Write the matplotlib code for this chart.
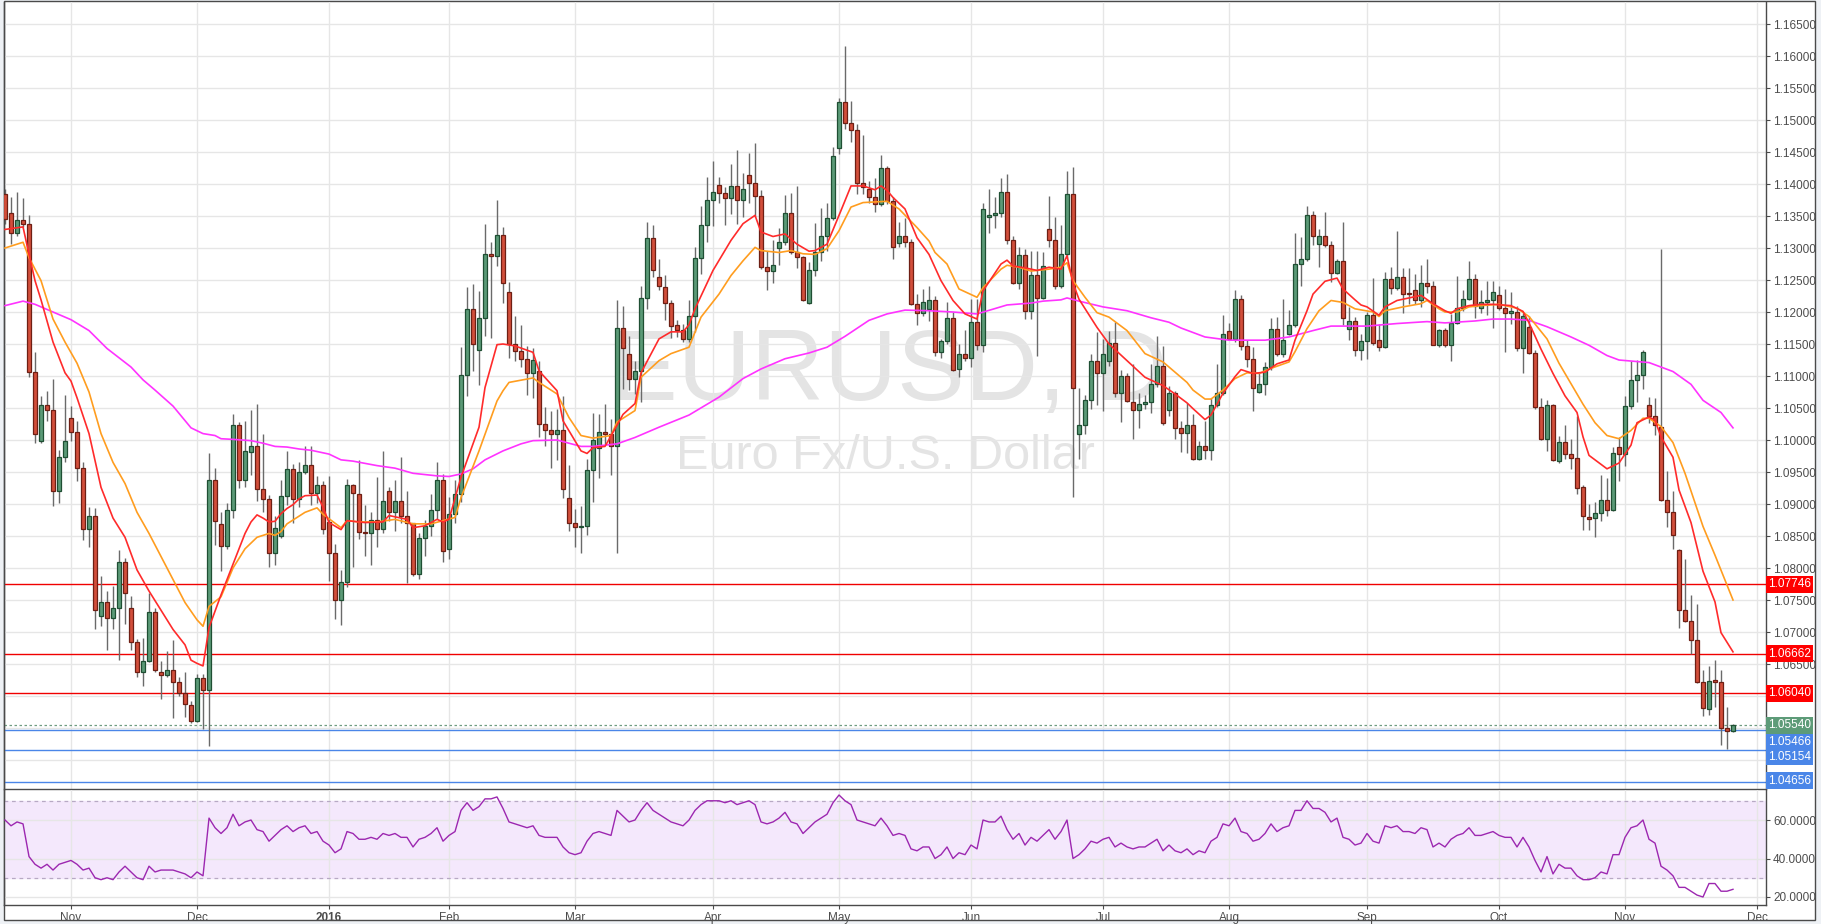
import numpy as np
import pandas as pd
import matplotlib.pyplot as plt
from matplotlib.patches import Rectangle
from matplotlib.ticker import FuncFormatter, FormatStrFormatter

plt.rcParams['font.family'] = ['Liberation Sans', 'DejaVu Sans']

W, H = 1821, 924

# EURUSD daily candles, 16 Oct 2015 - 25 Nov 2016
opens = [
    1.1385, 1.1355, 1.1323, 1.1344, 1.1338, 1.1107, 1.0998, 1.1055, 1.1047, 1.0921,
    1.0974, 1.1035, 1.1013, 1.0957, 1.0861, 1.0881, 1.0725, 1.0747, 1.0722, 1.0737,
    1.0809, 1.0737, 1.0684, 1.0637, 1.0655, 1.0731, 1.0637, 1.0633, 1.0640, 1.0622,
    1.0605, 1.0586, 1.0561, 1.0628, 1.0610, 1.0937, 1.0869, 1.0835, 1.0890, 1.1023,
    1.0938, 1.0982, 1.0991, 1.0923, 1.0908, 1.0824, 1.0850, 1.0912, 1.0955, 1.0908,
    1.0950, 1.0961, 1.0917, 1.0930, 1.0872, 1.0824, 1.0750, 1.0778, 1.0929, 1.0915,
    1.0857, 1.0855, 1.0875, 1.0861, 1.0921, 1.0887, 1.0905, 1.0882, 1.0870, 1.0790,
    1.0847, 1.0866, 1.0891, 1.0938, 1.0830, 1.0884, 1.0916, 1.1102, 1.1205, 1.1141,
    1.1191, 1.1291, 1.1288, 1.1320, 1.1231, 1.1150, 1.1139, 1.1127, 1.1105, 1.1108,
    1.1025, 1.1016, 1.1009, 1.1016, 1.0909, 1.0870, 1.0864, 1.0866, 1.0953, 1.0987,
    1.1013, 1.1009, 1.0990, 1.1175, 1.1135, 1.1096, 1.1108, 1.1222, 1.1316, 1.1254,
    1.1239, 1.1214, 1.1179, 1.1172, 1.1158, 1.1193, 1.1285, 1.1336, 1.1375, 1.1398,
    1.1386, 1.1378, 1.1397, 1.1375, 1.1414, 1.1401, 1.1381, 1.1271, 1.1264, 1.1300,
    1.1310, 1.1354, 1.1294, 1.1286, 1.1214, 1.1265, 1.1294, 1.1318, 1.1347, 1.1456,
    1.1528, 1.1495, 1.1484, 1.1402, 1.1392, 1.1379, 1.1369, 1.1425, 1.1373, 1.1308,
    1.1318, 1.1310, 1.1212, 1.1199, 1.1205, 1.1218, 1.1137, 1.1154, 1.1191, 1.1111,
    1.1135, 1.1128, 1.1185, 1.1149, 1.1349, 1.1351, 1.1354, 1.1388, 1.1312, 1.1245,
    1.1289, 1.1201, 1.1258, 1.1222, 1.1329, 1.1312, 1.1241, 1.1291, 1.1384, 1.1010,
    1.1023, 1.1063, 1.1123, 1.1105, 1.1124, 1.1152, 1.1074, 1.1100, 1.1059, 1.1047,
    1.1057, 1.1059, 1.1087, 1.1115, 1.1047, 1.1074, 1.1018, 1.1011, 1.1024, 1.0971,
    1.0991, 1.0985, 1.1055, 1.1074, 1.1170, 1.1158, 1.1221, 1.1147, 1.1126, 1.1075,
    1.1087, 1.1114, 1.1174, 1.1135, 1.1166, 1.1180, 1.1275, 1.1283, 1.1352, 1.1306,
    1.1318, 1.1304, 1.1261, 1.1279, 1.1174, 1.1186, 1.1141, 1.1155, 1.1196, 1.1156,
    1.1146, 1.1252, 1.1238, 1.1255, 1.1230, 1.1234, 1.1218, 1.1246, 1.1240, 1.1149,
    1.1172, 1.1149, 1.1183, 1.1207, 1.1221, 1.1252, 1.1207, 1.1215, 1.1219, 1.1226,
    1.1207, 1.1199, 1.1200, 1.1144, 1.1177, 1.1136, 1.1051, 1.1002, 1.1055, 1.0967,
    1.0997, 1.0978, 1.0972, 1.0927, 1.0880, 1.0878, 1.0886, 1.0906, 1.0890, 1.0989,
    1.0978, 1.1053, 1.1094, 1.1102, 1.1054, 1.1037, 1.1021, 1.0906, 1.0887, 1.0828,
    1.0734, 1.0717, 1.0688, 1.0622, 1.0580, 1.0625, 1.0622, 1.0550, 1.0545,
]
highs = [
    1.1392, 1.1379, 1.1387, 1.1378, 1.1351, 1.1138, 1.1068, 1.1077, 1.1095, 1.0984,
    1.1071, 1.1053, 1.1029, 1.0966, 1.0896, 1.0893, 1.0788, 1.0764, 1.0772, 1.0828,
    1.0815, 1.0756, 1.0689, 1.0690, 1.0761, 1.0737, 1.0655, 1.0671, 1.0688, 1.0629,
    1.0637, 1.0592, 1.0634, 1.0634, 1.0980, 1.0956, 1.0887, 1.0901, 1.1041, 1.1028,
    1.1030, 1.1047, 1.1057, 1.1010, 1.0914, 1.0881, 1.0938, 1.0983, 1.0962, 1.0966,
    1.0991, 1.0990, 1.0943, 1.0936, 1.0944, 1.0838, 1.0797, 1.0939, 1.0932, 1.0968,
    1.0899, 1.0887, 1.0942, 1.0983, 1.0927, 1.0938, 1.0974, 1.0921, 1.0871, 1.0855,
    1.0875, 1.0915, 1.0966, 1.0947, 1.0911, 1.0938, 1.1145, 1.1239, 1.1244, 1.1233,
    1.1338, 1.1310, 1.1375, 1.1333, 1.1247, 1.1193, 1.1179, 1.1147, 1.1144, 1.1124,
    1.1052, 1.1046, 1.1048, 1.1068, 1.0961, 1.0892, 1.0897, 1.0970, 1.1042, 1.1041,
    1.1057, 1.1033, 1.1218, 1.1209, 1.1163, 1.1124, 1.1241, 1.1341, 1.1336, 1.1283,
    1.1258, 1.1219, 1.1187, 1.1181, 1.1219, 1.1302, 1.1365, 1.1411, 1.1436, 1.1411,
    1.1396, 1.1431, 1.1453, 1.1417, 1.1448, 1.1464, 1.1390, 1.1295, 1.1313, 1.1331,
    1.1383, 1.1386, 1.1397, 1.1288, 1.1278, 1.1339, 1.1362, 1.1370, 1.1458, 1.1535,
    1.1616, 1.1529, 1.1493, 1.1477, 1.1404, 1.1410, 1.1446, 1.1428, 1.1379, 1.1341,
    1.1347, 1.1314, 1.1228, 1.1236, 1.1241, 1.1225, 1.1158, 1.1216, 1.1200, 1.1150,
    1.1172, 1.1220, 1.1220, 1.1371, 1.1392, 1.1380, 1.1410, 1.1415, 1.1319, 1.1302,
    1.1298, 1.1295, 1.1295, 1.1293, 1.1381, 1.1349, 1.1336, 1.1420, 1.1427, 1.1081,
    1.1070, 1.1135, 1.1168, 1.1158, 1.1171, 1.1184, 1.1110, 1.1104, 1.1119, 1.1074,
    1.1070, 1.1118, 1.1163, 1.1147, 1.1085, 1.1076, 1.1029, 1.1058, 1.1040, 1.0998,
    1.1029, 1.1065, 1.1118, 1.1196, 1.1183, 1.1234, 1.1226, 1.1157, 1.1145, 1.1104,
    1.1122, 1.1190, 1.1192, 1.1221, 1.1203, 1.1323, 1.1317, 1.1366, 1.1358, 1.1330,
    1.1356, 1.1311, 1.1283, 1.1340, 1.1208, 1.1192, 1.1166, 1.1200, 1.1253, 1.1182,
    1.1262, 1.1271, 1.1326, 1.1268, 1.1268, 1.1260, 1.1274, 1.1283, 1.1249, 1.1174,
    1.1175, 1.1197, 1.1257, 1.1234, 1.1279, 1.1259, 1.1234, 1.1248, 1.1248, 1.1241,
    1.1236, 1.1231, 1.1210, 1.1199, 1.1193, 1.1140, 1.1066, 1.1062, 1.1056, 1.1006,
    1.1024, 1.1002, 1.1037, 1.0929, 1.0900, 1.0903, 1.0945, 1.0941, 1.0989, 1.1005,
    1.1069, 1.1123, 1.1125, 1.1140, 1.1067, 1.1066, 1.1298, 1.0951, 1.0921, 1.0830,
    1.0814, 1.0758, 1.0744, 1.0641, 1.0647, 1.0656, 1.0641, 1.0583, 1.0557,
]
lows = [
    1.1338, 1.1307, 1.1318, 1.1333, 1.1099, 1.0996, 1.0996, 1.1030, 1.0897, 1.0902,
    1.0965, 1.0999, 1.0936, 1.0844, 1.0833, 1.0704, 1.0710, 1.0672, 1.0704, 1.0657,
    1.0713, 1.0672, 1.0629, 1.0616, 1.0653, 1.0637, 1.0595, 1.0629, 1.0565, 1.0600,
    1.0567, 1.0558, 1.0559, 1.0548, 1.0522, 1.0836, 1.0795, 1.0830, 1.0878, 1.0925,
    1.0926, 1.0945, 1.0905, 1.0887, 1.0801, 1.0805, 1.0847, 1.0899, 1.0870, 1.0895,
    1.0947, 1.0898, 1.0901, 1.0853, 1.0780, 1.0720, 1.0711, 1.0770, 1.0802, 1.0846,
    1.0818, 1.0804, 1.0833, 1.0854, 1.0874, 1.0858, 1.0870, 1.0776, 1.0788, 1.0783,
    1.0818, 1.0850, 1.0877, 1.0809, 1.0814, 1.0870, 1.0903, 1.1068, 1.1108, 1.1086,
    1.1162, 1.1160, 1.1272, 1.1214, 1.1128, 1.1123, 1.1114, 1.1070, 1.1065, 1.1004,
    1.0991, 1.0956, 1.0969, 1.0910, 1.0858, 1.0833, 1.0824, 1.0852, 1.0903, 1.0940,
    1.0994, 1.0946, 1.0823, 1.1080, 1.1078, 1.1072, 1.1059, 1.1205, 1.1255, 1.1234,
    1.1188, 1.1160, 1.1161, 1.1153, 1.1153, 1.1169, 1.1260, 1.1310, 1.1334, 1.1371,
    1.1336, 1.1353, 1.1338, 1.1348, 1.1371, 1.1349, 1.1267, 1.1235, 1.1245, 1.1273,
    1.1304, 1.1290, 1.1269, 1.1217, 1.1213, 1.1256, 1.1280, 1.1296, 1.1344, 1.1447,
    1.1486, 1.1466, 1.1385, 1.1384, 1.1371, 1.1357, 1.1365, 1.1369, 1.1283, 1.1301,
    1.1301, 1.1211, 1.1179, 1.1193, 1.1186, 1.1132, 1.1128, 1.1150, 1.1108, 1.1098,
    1.1123, 1.1114, 1.1140, 1.1137, 1.1324, 1.1332, 1.1348, 1.1306, 1.1244, 1.1236,
    1.1189, 1.1189, 1.1131, 1.1220, 1.1301, 1.1236, 1.1238, 1.1285, 1.0911, 1.0971,
    1.1010, 1.1049, 1.1054, 1.1046, 1.1116, 1.1067, 1.1028, 1.1059, 1.1002, 1.1018,
    1.1049, 1.1042, 1.1083, 1.1024, 1.1038, 1.1002, 1.0981, 1.0979, 1.0969, 1.0969,
    1.0970, 1.0969, 1.1052, 1.1070, 1.1156, 1.1153, 1.1140, 1.1114, 1.1046, 1.1073,
    1.1070, 1.1110, 1.1131, 1.1130, 1.1164, 1.1177, 1.1241, 1.1280, 1.1305, 1.1270,
    1.1301, 1.1247, 1.1260, 1.1179, 1.1156, 1.1131, 1.1125, 1.1127, 1.1148, 1.1139,
    1.1143, 1.1228, 1.1234, 1.1198, 1.1212, 1.1213, 1.1208, 1.1230, 1.1148, 1.1145,
    1.1146, 1.1123, 1.1182, 1.1202, 1.1218, 1.1191, 1.1198, 1.1196, 1.1175, 1.1203,
    1.1137, 1.1182, 1.1139, 1.1104, 1.1134, 1.1048, 1.1000, 1.0983, 1.0967, 1.0964,
    1.0970, 1.0954, 1.0915, 1.0859, 1.0859, 1.0849, 1.0873, 1.0881, 1.0889, 1.0936,
    1.0959, 1.1049, 1.1059, 1.1080, 1.1027, 1.1008, 1.0905, 1.0864, 1.0830, 1.0707,
    1.0715, 1.0666, 1.0620, 1.0568, 1.0571, 1.0583, 1.0524, 1.0517, 1.0543,
]
closes = [
    1.1346, 1.1323, 1.1344, 1.1338, 1.1107, 1.1010, 1.1055, 1.1047, 1.0921, 1.0974,
    1.0999, 1.1013, 1.0957, 1.0861, 1.0881, 1.0734, 1.0747, 1.0722, 1.0737, 1.0809,
    1.0761, 1.0684, 1.0637, 1.0655, 1.0731, 1.0640, 1.0633, 1.0640, 1.0622, 1.0605,
    1.0587, 1.0561, 1.0628, 1.0610, 1.0937, 1.0873, 1.0835, 1.0890, 1.1023, 1.0938,
    1.0983, 1.0991, 1.0923, 1.0908, 1.0824, 1.0863, 1.0912, 1.0955, 1.0908, 1.0950,
    1.0961, 1.0917, 1.0930, 1.0861, 1.0824, 1.0750, 1.0778, 1.0929, 1.0917, 1.0857,
    1.0855, 1.0875, 1.0861, 1.0905, 1.0887, 1.0905, 1.0882, 1.0870, 1.0791, 1.0847,
    1.0866, 1.0891, 1.0938, 1.0827, 1.0884, 1.0916, 1.1102, 1.1205, 1.1150, 1.1191,
    1.1291, 1.1288, 1.1320, 1.1246, 1.1150, 1.1139, 1.1127, 1.1105, 1.1125, 1.1025,
    1.1016, 1.1009, 1.1016, 1.0923, 1.0870, 1.0864, 1.0866, 1.0953, 1.1000, 1.1013,
    1.1009, 1.0990, 1.1175, 1.1143, 1.1096, 1.1108, 1.1222, 1.1316, 1.1266, 1.1240,
    1.1214, 1.1178, 1.1172, 1.1158, 1.1193, 1.1285, 1.1336, 1.1375, 1.1388, 1.1386,
    1.1378, 1.1397, 1.1375, 1.1392, 1.1401, 1.1381, 1.1271, 1.1264, 1.1274, 1.1310,
    1.1354, 1.1294, 1.1286, 1.1218, 1.1265, 1.1294, 1.1318, 1.1347, 1.1443, 1.1528,
    1.1495, 1.1484, 1.1402, 1.1396, 1.1379, 1.1369, 1.1425, 1.1373, 1.1301, 1.1318,
    1.1310, 1.1212, 1.1199, 1.1216, 1.1218, 1.1137, 1.1154, 1.1191, 1.1109, 1.1135,
    1.1128, 1.1185, 1.1149, 1.1361, 1.1351, 1.1354, 1.1388, 1.1312, 1.1245, 1.1289,
    1.1201, 1.1258, 1.1222, 1.1272, 1.1312, 1.1241, 1.1291, 1.1384, 1.1081, 1.1023,
    1.1063, 1.1123, 1.1105, 1.1135, 1.1152, 1.1074, 1.1100, 1.1061, 1.1047, 1.1057,
    1.1059, 1.1087, 1.1115, 1.1027, 1.1074, 1.1018, 1.1011, 1.1024, 1.0971, 1.0991,
    1.0985, 1.1055, 1.1074, 1.1166, 1.1158, 1.1221, 1.1147, 1.1126, 1.1081, 1.1087,
    1.1114, 1.1174, 1.1135, 1.1157, 1.1180, 1.1275, 1.1283, 1.1352, 1.1318, 1.1318,
    1.1304, 1.1261, 1.1279, 1.1191, 1.1186, 1.1141, 1.1155, 1.1196, 1.1151, 1.1146,
    1.1252, 1.1238, 1.1255, 1.1228, 1.1228, 1.1218, 1.1246, 1.1240, 1.1149, 1.1172,
    1.1149, 1.1183, 1.1207, 1.1221, 1.1252, 1.1209, 1.1215, 1.1219, 1.1232, 1.1207,
    1.1199, 1.1201, 1.1144, 1.1194, 1.1136, 1.1051, 1.1002, 1.1055, 1.0969, 1.0997,
    1.0978, 1.0972, 1.0925, 1.0881, 1.0876, 1.0886, 1.0906, 1.0890, 1.0980, 1.0978,
    1.1053, 1.1094, 1.1102, 1.1137, 1.1037, 1.1023, 1.0906, 1.0887, 1.0851, 1.0734,
    1.0717, 1.0688, 1.0622, 1.0582, 1.0623, 1.0622, 1.0550, 1.0545, 1.0554,
]

# moving averages, sampled along the bars (bar number, price)
fast_ma_bar = [0, 3, 4, 5, 6, 8, 10, 11, 12, 14, 16, 18, 20, 22, 24, 26, 28, 30, 31, 32,
               33, 34, 36, 38, 40, 41, 42, 43, 44, 45, 46, 47, 48, 49, 50, 52, 53, 54, 56, 57,
               60, 63, 64, 67, 68, 70, 72, 73, 74, 76, 79, 80, 82, 83, 85, 88, 89, 92, 93, 96,
               97, 98, 100, 102, 103, 105, 106, 109, 111, 113, 114, 115, 118, 121, 123, 125, 126, 128, 130, 132,
               134, 135, 137, 139, 141, 143, 145, 146, 147, 148, 150, 152, 154, 156, 158, 160, 162, 163, 166, 167,
               168, 170, 172, 174, 176, 177, 178, 179, 182, 184, 187, 190, 193, 195, 197, 198, 200, 201, 203, 205,
               206, 208, 210, 212, 214, 215, 217, 218, 220, 222, 223, 225, 226, 227, 229, 230, 232, 234, 236, 238,
               240, 241, 242, 244, 246, 248, 251, 253, 254, 256, 258, 260, 262, 263, 264, 267, 269, 271, 272, 274,
               275, 276, 278, 279, 281, 283, 285, 286, 288]
fast_ma = [1.1329, 1.1333, 1.1290, 1.1249, 1.1219, 1.1153, 1.1105, 1.1092, 1.1066, 1.1010,
           1.0926, 1.0878, 1.0848, 1.0797, 1.0764, 1.0734, 1.0704, 1.0680, 1.0656, 1.0651,
           1.0647, 1.0707, 1.0758, 1.0806, 1.0854, 1.0872, 1.0883, 1.0878, 1.0872, 1.0873,
           1.0885, 1.0893, 1.0899, 1.0908, 1.0913, 1.0914, 1.0895, 1.0871, 1.0860, 1.0874,
           1.0871, 1.0872, 1.0882, 1.0876, 1.0863, 1.0866, 1.0876, 1.0872, 1.0876, 1.0942,
           1.1020, 1.1082, 1.1149, 1.1150, 1.1147, 1.1137, 1.1108, 1.1077, 1.1030, 1.0983,
           1.0979, 1.0988, 1.0990, 1.1023, 1.1040, 1.1057, 1.1105, 1.1158, 1.1169, 1.1169,
           1.1180, 1.1205, 1.1265, 1.1312, 1.1338, 1.1351, 1.1325, 1.1318, 1.1322, 1.1306,
           1.1295, 1.1296, 1.1306, 1.1351, 1.1397, 1.1397, 1.1391, 1.1397, 1.1390, 1.1379,
           1.1361, 1.1316, 1.1290, 1.1249, 1.1218, 1.1197, 1.1189, 1.1233, 1.1275, 1.1281,
           1.1272, 1.1269, 1.1265, 1.1270, 1.1267, 1.1288, 1.1245, 1.1220, 1.1176, 1.1150,
           1.1124, 1.1098, 1.1085, 1.1072, 1.1058, 1.1049, 1.1032, 1.1039, 1.1073, 1.1099,
           1.1110, 1.1104, 1.1106, 1.1119, 1.1125, 1.1156, 1.1202, 1.1228, 1.1248, 1.1253,
           1.1236, 1.1219, 1.1211, 1.1208, 1.1195, 1.1208, 1.1218, 1.1222, 1.1226, 1.1213,
           1.1202, 1.1198, 1.1205, 1.1210, 1.1212, 1.1212, 1.1210, 1.1201, 1.1183, 1.1142,
           1.1104, 1.1069, 1.1043, 1.1005, 1.0976, 1.0955, 1.0964, 1.0992, 1.1027, 1.1036,
           1.1031, 1.1005, 1.0973, 1.0922, 1.0871, 1.0795, 1.0747, 1.0699, 1.0669]

mid_ma_bar = [0, 3, 4, 6, 8, 10, 12, 14, 16, 18, 20, 22, 24, 26, 28, 30, 32, 33, 34, 36,
              38, 40, 42, 44, 45, 46, 47, 49, 50, 52, 53, 56, 57, 59, 62, 65, 68, 71, 73, 75,
              76, 79, 82, 83, 84, 88, 89, 92, 94, 96, 98, 101, 102, 105, 106, 109, 111, 114, 116, 119,
              121, 123, 125, 126, 129, 131, 133, 135, 137, 139, 141, 143, 147, 149, 152, 154, 155, 157, 159, 162,
              163, 166, 167, 169, 171, 174, 176, 177, 178, 180, 182, 184, 187, 190, 193, 195, 197, 198, 200, 201,
              203, 205, 207, 209, 211, 214, 215, 217, 219, 221, 223, 225, 228, 229, 230, 233, 236, 237, 239, 240,
              242, 244, 246, 249, 252, 254, 257, 259, 261, 263, 265, 267, 269, 271, 273, 274, 276, 278, 280, 283,
              285, 288]
mid_ma = [1.1300, 1.1309, 1.1285, 1.1249, 1.1189, 1.1153, 1.1120, 1.1075, 1.1010, 1.0965,
          1.0932, 1.0887, 1.0854, 1.0818, 1.0782, 1.0746, 1.0719, 1.0709, 1.0740, 1.0755,
          1.0800, 1.0830, 1.0848, 1.0854, 1.0851, 1.0857, 1.0869, 1.0881, 1.0887, 1.0894,
          1.0884, 1.0863, 1.0874, 1.0872, 1.0872, 1.0876, 1.0869, 1.0869, 1.0874, 1.0879,
          1.0910, 1.0983, 1.1061, 1.1077, 1.1090, 1.1097, 1.1090, 1.1072, 1.1035, 1.1007,
          1.1003, 1.1007, 1.1028, 1.1046, 1.1098, 1.1124, 1.1135, 1.1145, 1.1192, 1.1228,
          1.1257, 1.1280, 1.1301, 1.1296, 1.1293, 1.1296, 1.1291, 1.1290, 1.1299, 1.1327,
          1.1364, 1.1371, 1.1373, 1.1361, 1.1332, 1.1311, 1.1293, 1.1275, 1.1236, 1.1223,
          1.1238, 1.1267, 1.1273, 1.1270, 1.1264, 1.1267, 1.1270, 1.1277, 1.1249, 1.1223,
          1.1199, 1.1192, 1.1171, 1.1135, 1.1122, 1.1106, 1.1090, 1.1078, 1.1064, 1.1064,
          1.1078, 1.1096, 1.1105, 1.1104, 1.1112, 1.1122, 1.1138, 1.1174, 1.1202, 1.1218,
          1.1215, 1.1205, 1.1200, 1.1193, 1.1202, 1.1208, 1.1213, 1.1218, 1.1205, 1.1200,
          1.1200, 1.1208, 1.1210, 1.1212, 1.1206, 1.1193, 1.1158, 1.1120, 1.1088, 1.1056,
          1.1027, 1.1007, 1.1002, 1.1015, 1.1034, 1.1034, 1.1021, 1.0996, 1.0948, 1.0865,
          1.0820, 1.0750]

slow_ma_bar = [0, 3, 5, 8, 11, 14, 17, 21, 23, 25, 28, 31, 33, 35, 36, 38, 41, 43, 45, 47,
               49, 51, 54, 56, 58, 62, 65, 68, 72, 74, 76, 78, 80, 83, 86, 88, 92, 94, 96, 98,
               102, 105, 109, 114, 119, 123, 126, 130, 134, 137, 140, 144, 147, 150, 154, 158, 162, 167, 171, 173,
               176, 177, 179, 183, 187, 191, 194, 196, 200, 204, 210, 214, 218, 221, 227, 232, 237, 240, 245, 248,
               251, 254, 257, 261, 264, 267, 269, 274, 278, 281, 283, 286, 288]
slow_ma = [1.1210, 1.1217, 1.1212, 1.1200, 1.1188, 1.1171, 1.1143, 1.1114, 1.1094, 1.1078,
           1.1053, 1.1019, 1.1010, 1.1007, 1.1002, 1.1001, 1.0999, 1.0995, 1.0990, 1.0989,
           1.0986, 1.0984, 1.0978, 1.0969, 1.0967, 1.0960, 1.0956, 1.0948, 1.0944, 1.0943,
           1.0947, 1.0955, 1.0969, 1.0983, 1.0994, 1.0999, 1.1000, 1.0995, 1.0990, 1.0990,
           1.0994, 1.1004, 1.1020, 1.1039, 1.1067, 1.1096, 1.1111, 1.1127, 1.1136, 1.1145,
           1.1162, 1.1187, 1.1197, 1.1203, 1.1202, 1.1200, 1.1197, 1.1211, 1.1214, 1.1217,
           1.1219, 1.1222, 1.1217, 1.1208, 1.1202, 1.1191, 1.1184, 1.1175, 1.1161, 1.1156,
           1.1156, 1.1161, 1.1171, 1.1178, 1.1178, 1.1182, 1.1185, 1.1183, 1.1186, 1.1189,
           1.1189, 1.1187, 1.1177, 1.1161, 1.1148, 1.1132, 1.1125, 1.1121, 1.1107, 1.1087,
           1.1062, 1.1043, 1.1019]

rsi = [
    60, 57, 59, 58, 41, 37, 35, 37, 34, 37, 38, 39, 37, 34, 35, 30, 29, 30, 29, 33,
    36, 33, 30, 29, 36, 33, 34, 34, 34, 33, 32, 30, 33, 31, 61, 56, 53, 56, 63, 57,
    59, 60, 55, 54, 49, 52, 55, 57, 54, 56, 57, 53, 54, 49, 47, 43, 45, 54, 53, 50,
    50, 51, 50, 53, 52, 53, 51, 51, 46, 50, 51, 53, 56, 49, 52, 54, 65, 69, 65, 67,
    71, 71, 72, 66, 59, 58, 57, 56, 57, 52, 51, 51, 51, 46, 43, 42, 43, 49, 53, 54,
    53, 52, 65, 62, 59, 60, 65, 69, 65, 63, 61, 59, 58, 57, 60, 65, 68, 70, 70, 70,
    69, 70, 68, 69, 70, 68, 59, 58, 59, 61, 64, 59, 58, 53, 56, 59, 61, 63, 69, 73,
    70, 68, 60, 59, 58, 57, 61, 57, 52, 53, 52, 45, 44, 46, 46, 40, 42, 46, 40, 43,
    42, 47, 45, 60, 59, 59, 62, 55, 50, 53, 47, 51, 49, 52, 55, 50, 54, 60, 40, 42,
    45, 49, 48, 50, 51, 46, 48, 46, 45, 46, 46, 48, 50, 44, 47, 44, 43, 45, 42, 44,
    43, 49, 51, 58, 57, 61, 54, 53, 49, 50, 53, 58, 54, 56, 57, 65, 65, 70, 66, 66,
    64, 59, 61, 51, 50, 47, 48, 53, 49, 48, 57, 56, 57, 54, 54, 53, 56, 55, 46, 48,
    46, 50, 52, 53, 56, 52, 52, 53, 54, 52, 51, 51, 46, 51, 46, 39, 33, 41, 32, 37,
    35, 35, 31, 29, 29, 30, 33, 32, 42, 42, 51, 56, 57, 60, 50, 48, 36, 34, 31, 25,
    25, 23, 21, 20, 27, 27, 23, 23, 24,
]

red_levels = [1.07746, 1.06662, 1.06040]
blue_levels = [1.05466, 1.05154, 1.04656]
last_price = 1.05540

# trading days (FX calendar without 25 Dec and 1 Jan); the x axis runs to 1 Dec 2016
days = pd.bdate_range('2015-10-16', '2016-12-01')
days = days[~days.isin(pd.to_datetime(['2015-12-25', '2016-01-01']))]
month_pos = [i for i in range(1, len(days)) if days[i].month != days[i - 1].month]
month_lab = [str(days[i].year) if days[i].month == 1 else days[i].strftime('%b') for i in month_pos]

o, h, l, c = (np.array(v) for v in (opens, highs, lows, closes))
x = np.arange(len(c))
up = c >= o

fig = plt.figure(figsize=(W / 100, H / 100), dpi=100, facecolor='#eef1f5')
frame = Rectangle((4 / W, 1 - 920 / H), 1811 / W, 919 / H, transform=fig.transFigure,
                  facecolor='white', edgecolor='#4a4a4a', lw=1, zorder=-5)
fig.patches.append(frame)

ax = fig.add_axes([4 / W, 1 - 789 / H, 1762 / W, 787 / H])
rx = fig.add_axes([4 / W, 1 - 905 / H, 1762 / W, 115 / H])

grid_c = '#e6e6e6'
axis_c = '#4a4a4a'
txt_c = '#4d4d4d'

for a in (ax, rx):
    a.patch.set_alpha(0)
    a.set_xlim(-0.17, 293.5)
    a.set_xticks(month_pos)
    a.grid(True, color=grid_c, lw=1)
    a.set_axisbelow(True)
    a.yaxis.tick_right()
    a.tick_params(axis='y', direction='out', length=3, width=0.8, color=axis_c,
                  labelsize=8.5, labelcolor=txt_c, pad=2)
    for s in a.spines.values():
        s.set_color(axis_c)
        s.set_linewidth(1)
ax.spines['top'].set_visible(False)
rx.spines['top'].set_visible(False)


# price scale; labels sitting under the value boxes are hidden, as on the chart
def price_label(v, pos):
    if v < 1.0625:
        return ''
    return '%.5f' % v


ax.set_ylim(1.04547, 1.16844)
ax.set_yticks(np.arange(1.050, 1.1651, 0.005))
ax.yaxis.set_major_formatter(FuncFormatter(price_label))
ax.tick_params(axis='x', length=0, labelbottom=False)

ax.text(0.502, 0.494, 'EURUSD, D', transform=ax.transAxes, ha='center', va='baseline',
        fontsize=73, color='#e4e4e4', zorder=0.5)
ax.text(0.5, 0.407, 'Euro Fx/U.S. Dollar', transform=ax.transAxes, ha='center', va='baseline',
        fontsize=35, color='#e4e4e4', zorder=0.5)

ax.vlines(x, l, h, color='#6a6a6a', lw=1, zorder=2)
ax.bar(x[up], (c - o)[up], bottom=o[up], width=0.68, color='#5b9a77',
       edgecolor='#1f4f33', lw=0.9, zorder=3)
ax.bar(x[~up], (o - c)[~up], bottom=c[~up], width=0.68, color='#d24f3b',
       edgecolor='#6e1f14', lw=0.9, zorder=3)

ax.plot(slow_ma_bar, slow_ma, color='#ff33ff', lw=1.2, zorder=4)
ax.plot(mid_ma_bar, mid_ma, color='#ff9d1f', lw=1.2, zorder=4)
ax.plot(fast_ma_bar, fast_ma, color='#ff2b2b', lw=1.2, zorder=4)

for lv in red_levels:
    ax.axhline(lv, color='#f00000', lw=1, zorder=1.5)
for lv in blue_levels:
    ax.axhline(lv, color='#4a86e8', lw=1, zorder=1.5)
ax.axhline(last_price, color='#6f9c80', lw=0.9, ls=(0, (2, 2)), zorder=1.5)

# value boxes on the price scale (the two blue ones are pushed down to avoid overlap)
boxes = [(1.07746, '#ff0000', 0), (1.06662, '#ff0000', 0), (1.06040, '#ff0000', 0),
         (last_price, '#5d9b78', 0), (1.05466, '#4a86e8', -8.5), (1.05154, '#4a86e8', -5),
         (1.04656, '#4a86e8', 1)]
for val, col, dy in boxes:
    ax.annotate('%.5f' % val, xy=(1, val), xycoords=('axes fraction', 'data'),
                xytext=(1.5, dy), textcoords='offset points', ha='left', va='center',
                fontsize=8.5, color='white', annotation_clip=False, zorder=10,
                bbox=dict(boxstyle='square,pad=0.2', fc=col, ec='none'))

# RSI panel
rx.set_ylim(15.84, 75.6)
rx.set_yticks([20, 40, 60])
rx.yaxis.set_major_formatter(FormatStrFormatter('%.4f'))
rx.axhspan(30, 70, color='#f4e8fc', zorder=0.2)
rx.axhline(70, color='#b7a9c4', lw=0.9, ls=(0, (3, 3)), zorder=1)
rx.axhline(30, color='#b7a9c4', lw=0.9, ls=(0, (3, 3)), zorder=1)
rx.plot(x, rsi, color='#9c27b0', lw=1, zorder=3)
rx.set_xticklabels(month_lab)
rx.tick_params(axis='x', direction='out', length=3, color=axis_c, labelsize=8.5,
               labelcolor=txt_c, pad=2)
for lab in rx.get_xticklabels():
    if lab.get_text() == '2016':
        lab.set_fontweight('bold')

fig.savefig('out.png', dpi=100, facecolor=fig.get_facecolor())
